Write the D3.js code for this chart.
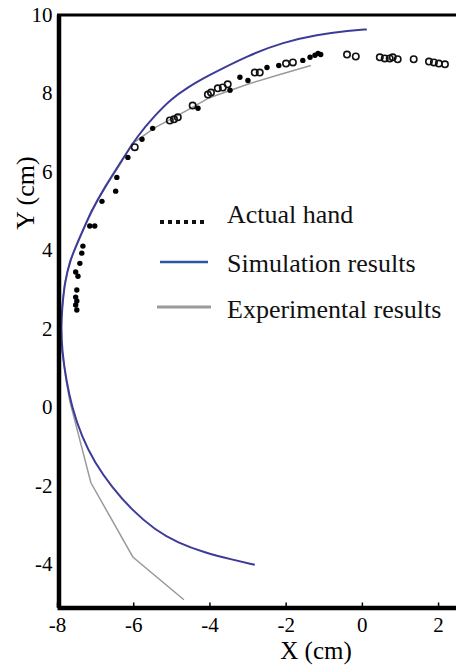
<!DOCTYPE html>
<html>
<head>
<meta charset="utf-8">
<script src="https://cdn.jsdelivr.net/npm/d3@7"></script>
<style>
body{margin:0;background:#fff}
svg{display:block;background:#fff;font-family:"Liberation Serif","Times New Roman",serif}
</style>
</head>
<body>
<svg id="chart"></svg>
<script>
// values, in cm
var simulationPts = [
    [0.13,9.62],[-0.31,9.59],[-1.18,9.49],[-2.07,9.29],[-2.94,8.98],[-4.12,8.40],
    [-4.57,8.14],[-4.99,7.86],[-5.43,7.43],[-5.88,6.92],[-6.30,6.28],[-6.75,5.60],
    [-7.09,5.01],[-7.40,4.33],[-7.66,3.74],[-7.80,3.16],[-7.87,2.47],[-7.89,2.04],
    [-7.87,1.45],[-7.76,0.69],[-7.61,0.00],[-7.35,-0.76],[-7.01,-1.42],[-6.56,-2.04],
    [-6.04,-2.62],[-5.43,-3.13],[-4.83,-3.46],[-4.12,-3.71],[-3.39,-3.89],[-2.81,-4.02]
]

var experimentalPts = [
    [-1.34,8.70],[-2.15,8.47],[-2.94,8.24],[-4.00,7.88],[-4.60,7.55],[-5.43,7.12],
    [-6.04,6.70],[-6.32,6.22],[-6.76,5.55],[-7.10,5.00],[-7.40,4.30],[-7.66,3.72],
    [-7.80,3.14],[-7.87,2.47],[-7.89,2.04],[-7.87,1.45],[-7.76,0.69],[-7.66,0.13],
    [-7.11,-1.93],[-6.01,-3.82],[-4.67,-4.91]
]

var handFilled = [
    [-7.48,2.47],[-7.51,2.60],[-7.48,2.70],[-7.51,2.80],[-7.48,2.98],[-7.45,3.33],
    [-7.51,3.44],[-7.40,3.66],[-7.35,3.92],[-7.32,4.10],[-7.14,4.61],[-7.01,4.61],
    [-6.82,5.24],[-6.46,5.50],[-6.43,5.85],[-6.14,6.36],[-5.77,6.82],[-5.49,7.10],
    [-4.30,7.61],[-3.46,8.07],[-3.20,8.40],[-2.99,8.32],[-2.49,8.65],[-2.18,8.70],
    [-1.55,8.83],[-1.36,8.91],[-1.23,8.96],[-1.15,9.01],[-1.08,8.98]
]

var handOpen = [
    [-5.96,6.62],[-5.04,7.30],[-4.93,7.33],[-4.83,7.38],[-4.44,7.68],[-4.04,7.96],
    [-3.96,8.01],[-3.78,8.12],[-3.65,8.14],[-3.52,8.22],[-2.81,8.52],[-2.68,8.52],
    [-1.99,8.75],[-1.81,8.78],[-0.39,8.98],[-0.16,8.93],[0.47,8.91],[0.60,8.88],
    [0.73,8.88],[0.81,8.91],[0.94,8.86],[1.36,8.86],[1.76,8.80],[1.89,8.78],
    [2.02,8.75],[2.18,8.73]
]

var xTicks = [-8,-6,-4,-2,0,2]
var yTicks = [-4,-2,0,2,4,6,8,10]
var legendLabels = ["Actual hand","Simulation results","Experimental results"]
var xTitle = "X (cm)"
var yTitle = "Y (cm)"

var screen = {width:456, height:665}

var svg = d3.select("#chart")
    .attr("width",screen.width)
    .attr("height",screen.height)

var xScale = d3.scaleLinear()
    .domain([-8,2.47])
    .range([57,456])

var yScale = d3.scaleLinear()
    .domain([-5.1,10])
    .range([607.2,14.5])

var lineGenerator = d3.line()
    .x(function(p){return xScale(p[0])})
    .y(function(p){return yScale(p[1])})

//experimental path first so the simulation curve sits on top
svg.append("path")
    .datum(experimentalPts)
    .attr("fill","none")
    .attr("stroke","#9a9a9a")
    .attr("stroke-width",1.5)
    .attr("d",lineGenerator)

svg.append("path")
    .datum(simulationPts)
    .attr("fill","none")
    .attr("stroke","#3d3b98")
    .attr("stroke-width",2)
    .attr("d",lineGenerator.curve(d3.curveBasis))

svg.append("g")
    .selectAll("circle")
    .data(handOpen)
    .enter()
    .append("circle")
    .attr("cx",function(p){return xScale(p[0])})
    .attr("cy",function(p){return yScale(p[1])})
    .attr("r",3.2)
    .attr("fill","none")
    .attr("stroke","#111")
    .attr("stroke-width",1.6)

svg.append("g")
    .selectAll("circle")
    .data(handFilled)
    .enter()
    .append("circle")
    .attr("cx",function(p){return xScale(p[0])})
    .attr("cy",function(p){return yScale(p[1])})
    .attr("r",2.7)
    .attr("fill","#000")

//axes
var xAxis = d3.axisBottom(xScale)
    .tickValues(xTicks)
    .tickFormat(function(d){return String(d)})
    .tickSizeInner(-5)
    .tickSizeOuter(0)
    .tickPadding(9.5)

var yAxis = d3.axisLeft(yScale)
    .tickValues(yTicks)
    .tickFormat(function(d){return String(d)})
    .tickSize(0)
    .tickPadding(6)

var gx = svg.append("g")
    .attr("transform","translate(0,607.5)")
    .call(xAxis)
gx.select(".domain").attr("stroke","#000").attr("stroke-width",4.5)
gx.selectAll(".tick line").attr("stroke","#000").attr("stroke-width",1.5)
gx.selectAll("text")
    .attr("font-family","Liberation Serif, Times New Roman, serif")
    .attr("font-size",21)
    .attr("fill","#000")

var gy = svg.append("g")
    .attr("transform","translate(58.5,0)")
    .call(yAxis)
gy.select(".domain").attr("stroke","#000").attr("stroke-width",4.5)
gy.selectAll("text")
    .attr("font-family","Liberation Serif, Times New Roman, serif")
    .attr("font-size",21)
    .attr("fill","#000")

//top border
svg.append("line")
    .attr("x1",57).attr("x2",screen.width)
    .attr("y1",15).attr("y2",15)
    .attr("stroke","#000")
    .attr("stroke-width",3)

svg.append("text")
    .text(xTitle)
    .attr("x",316)
    .attr("y",659)
    .attr("text-anchor","middle")
    .attr("font-size",25)

svg.append("g")
    .attr("transform","translate(34,193)")
    .append("text")
    .text(yTitle)
    .attr("text-anchor","middle")
    .attr("transform","rotate(-90)")
    .attr("font-size",26)

//legend
var legend = svg.append("g").attr("transform","translate(158,222)")
var markerY = [0,40,85]
var textY = [1,50,96]

legend.append("line")
    .attr("x1",2).attr("x2",46)
    .attr("y1",markerY[0]).attr("y2",markerY[0])
    .attr("stroke","#111")
    .attr("stroke-width",4)
    .attr("stroke-dasharray","4,4")

legend.append("line")
    .attr("x1",2).attr("x2",50)
    .attr("y1",markerY[1]).attr("y2",markerY[1])
    .attr("stroke","#2e55a4")
    .attr("stroke-width",2.5)

legend.append("line")
    .attr("x1",-1).attr("x2",53)
    .attr("y1",markerY[2]).attr("y2",markerY[2])
    .attr("stroke","#9a9a9a")
    .attr("stroke-width",3)

legend.selectAll("text.lab")
    .data(legendLabels)
    .enter()
    .append("text")
    .classed("lab",true)
    .text(function(d){return d})
    .attr("x",69)
    .attr("y",function(d,i){return textY[i]})
    .attr("font-size",26)
    .attr("fill","#111")
</script>
</body>
</html>
